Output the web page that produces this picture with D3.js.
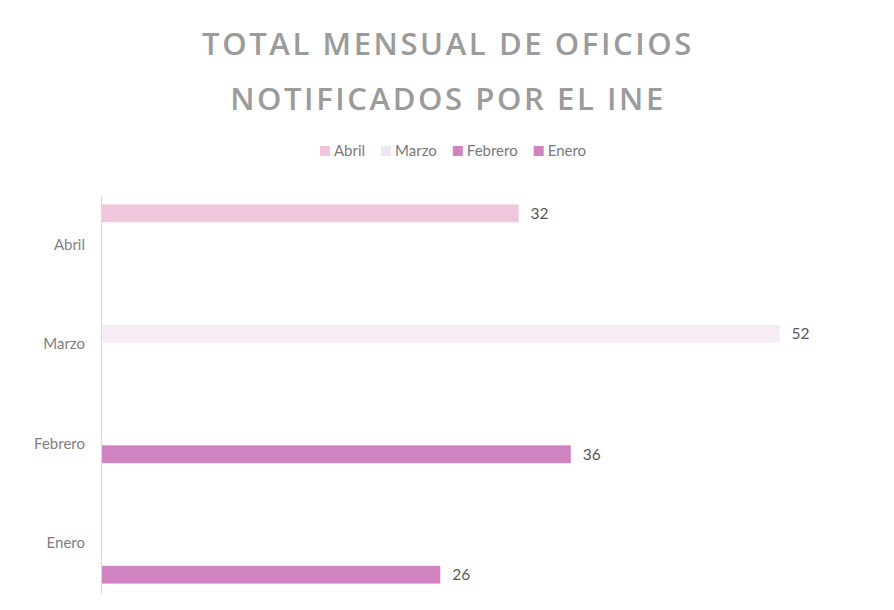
<!DOCTYPE html>
<html>
<head>
<meta charset="utf-8">
<script src="https://cdn.jsdelivr.net/npm/d3@7"></script>
<style>
  body { margin: 0; background: #fff; }
  svg { display: block; }
</style>
</head>
<body>
<svg id="chart" width="894" height="610"></svg>
<script>
// categories top to bottom, and the series as they appear in the legend
const months = ["Abril", "Marzo", "Febrero", "Enero"];
const seriesNames = ["Abril", "Marzo", "Febrero", "Enero"];
const seriesColors = ["#efc6dc", "#f7ecf5", "#d085c2", "#d085c2"];
// value of each series in each category (rows = series, cols = months)
const abrilValues = [32, 0, 0, 0];
const marzoValues = [0, 52, 0, 0];
const febreroValues = [0, 0, 36, 0];
const eneroValues = [0, 0, 0, 26];
const titleLines = ["TOTAL MENSUAL DE OFICIOS", "NOTIFICADOS POR EL INE"];

const allValues = [abrilValues, marzoValues, febreroValues, eneroValues];

const svg = d3.select("#chart");
const W = 894, H = 610;
let margin = { top: 195, right: 10, bottom: 17, left: 101 };

svg.append("rect").attr("width", W).attr("height", H).attr("fill", "#fff");

// title
svg.append("g").selectAll("text")
  .data(titleLines)
  .join("text")
  .attr("x", 448)
  .attr("y", (d, i) => 55 + i * 55)
  .attr("text-anchor", "middle")
  .attr("font-family", "'Open Sans', sans-serif")
  .attr("font-size", 31)
  .attr("font-weight", 600)
  .attr("letter-spacing", 2.6)
  .attr("fill", "#9b9b9b")
  .text(d => d);

// legend
let legend = svg.append("g").attr("font-family", "Lato, sans-serif").attr("font-size", 15);
let lx = 0;
seriesNames.forEach((s, i) => {
  let g = legend.append("g").attr("transform", `translate(${lx},0)`);
  g.append("rect").attr("x", 0).attr("y", -5).attr("width", 10).attr("height", 10)
    .attr("fill", seriesColors[i] === "#f7ecf5" ? "#eee8ee" : seriesColors[i]);
  let t = g.append("text").attr("x", 14).attr("y", 5).attr("fill", "#7a7a7a").text(s);
  lx += 14 + t.node().getComputedTextLength() + 16;
});
let legendW = lx - 16;
legend.attr("transform", `translate(${453 - legendW / 2},151)`);

// scales
let x = d3.scaleLinear()
  .domain([0, 60])
  .range([margin.left, W - margin.right]);

let y = d3.scaleBand()
  .domain(months)
  .range([margin.top, H - margin.bottom]);

let ySub = d3.scaleBand()
  .domain(seriesNames)
  .range([0, y.bandwidth()])
  .paddingInner(0.15)
  .paddingOuter(0.45);

// category labels
let yAxis = g => g
  .attr("transform", `translate(${margin.left},0)`)
  .call(d3.axisLeft(y).tickSize(0).tickPadding(16))
  .call(g => g.select(".domain").attr("stroke", "#d9d9d9").attr("stroke-width", 1))
  .call(g => g.selectAll("text")
    .attr("font-family", "Lato, sans-serif")
    .attr("font-size", 15)
    .attr("fill", "#7f7f7f"));

// bars
let barData = [];
seriesNames.forEach((s, si) => {
  months.forEach((m, mi) => {
    let v = allValues[si][mi];
    if (v > 0) barData.push({ series: s, month: m, value: v, color: seriesColors[si] });
  });
});

svg.append("g")
  .selectAll("rect")
  .data(barData)
  .join("rect")
  .attr("x", x(0))
  .attr("y", d => y(d.month) + ySub(d.series))
  .attr("width", d => x(d.value) - x(0))
  .attr("height", ySub.bandwidth())
  .attr("fill", d => d.color);

svg.append("g").call(yAxis);

// data labels
svg.append("g")
  .selectAll("text")
  .data(barData)
  .join("text")
  .attr("x", d => x(d.value) + 12)
  .attr("y", d => y(d.month) + ySub(d.series) + ySub.bandwidth() / 2)
  .attr("dy", "0.35em")
  .attr("font-family", "Lato, sans-serif")
  .attr("font-size", 15.5)
  .attr("fill", "#595959")
  .text(d => d.value);
</script>
</body>
</html>
